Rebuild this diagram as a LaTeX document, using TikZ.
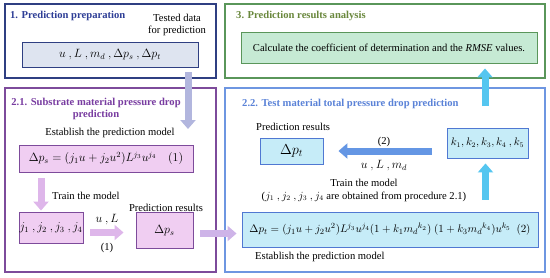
\documentclass[tikz,border=0pt]{standalone}
\usepackage{amsmath}
\usepackage{fontspec}
\setmainfont{Liberation Serif}
\usetikzlibrary{
	positioning,
	arrows.meta,
	calc
}
\definecolor{PrepNavy}{RGB}{47,63,130}
\definecolor{PrepTitle}{RGB}{46,62,150}
\definecolor{PrepFill}{RGB}{222,228,240}
\definecolor{EvalGreen}{RGB}{90,150,90}
\definecolor{EvalTitle}{RGB}{105,135,60}
\definecolor{EvalFill}{RGB}{198,234,212}
\definecolor{SubPurple}{RGB}{125,75,155}
\definecolor{SubTitle}{RGB}{120,60,160}
\definecolor{SubFill}{RGB}{240,206,242}
\definecolor{SubArrow}{RGB}{222,182,234}
\definecolor{TestBlue}{RGB}{110,150,225}
\definecolor{TestTitle}{RGB}{90,130,215}
\definecolor{TestFill}{RGB}{198,236,248}
\definecolor{TestBorder}{RGB}{80,120,210}
\definecolor{TestArrow}{RGB}{85,198,240}
\definecolor{LeftArrow}{RGB}{100,150,228}
\definecolor{DownArrow}{RGB}{178,182,222}
\definecolor{MixArrow}{RGB}{206,180,232}

\newcommand{\basesize}{\fontsize{10.6}{12.6}\selectfont}
\newcommand{\mathsize}{\fontsize{11.6}{13.6}\selectfont}

\tikzset{
	framebox/.style={line width=1.1pt},
	inbox/.style={draw, line width=0.9pt, inner sep=0pt, align=center},
	steptitle/.style={font=\basesize\bfseries, inner sep=0pt},
	plaintext/.style={inner sep=0pt, align=center},
	fatarrow/.style={line width=7pt, -{Triangle[length=9pt,width=15pt]}}
}

\begin{document}
\begin{tikzpicture}[x=1pt,y=-1pt,font=\basesize]
				
				\useasboundingbox (0,0) rectangle (550,277);
				
				\draw[
				PrepNavy,
				framebox
				]
				(5,4) rectangle (216,78);
				
				\draw[
				EvalGreen,
				framebox
				]
				(225,4) rectangle (545,78);
				
				\draw[
				SubPurple,
				framebox
				]
				(5,88) rectangle (216,272);
				
				\draw[
				TestBlue,
				framebox
				]
				(225,88) rectangle (545,272);
				
				\node[
				steptitle,
				PrepTitle,
				anchor=west
				]
				(title1) at (10,16)
				{1. Prediction preparation};
				
				\node[
				plaintext
				]
				(tested) at (177,25)
				{Tested data\\for prediction};
				
				\node[
				inbox,
				draw=PrepNavy,
				fill=PrepFill,
				minimum width=176pt,
				minimum height=25pt,
				font=\mathsize
				]
				(inp) at (110,54.5)
				{$u\ ,L\ ,m_d\ ,\Delta p_s\ ,\Delta p_t$};
				
				\node[
				steptitle,
				EvalTitle,
				anchor=west
				]
				(title3) at (236,16)
				{3. Prediction results analysis};
				
				\node[
				inbox,
				draw=EvalGreen,
				fill=EvalFill,
				minimum width=296pt,
				minimum height=31pt
				]
				(calc) at (389,47.5)
				{Calculate the coefficient of determination and the \textit{RMSE} values.};
				
				\node[
				steptitle,
				SubTitle,
				align=center
				]
				(title21) at (96,109)
				{2.1. Substrate material pressure drop\\prediction};
				
				\node[
				plaintext
				]
				(est1) at (110,133)
				{Establish the prediction model};
				
				\node[
				inbox,
				draw=SubPurple,
				fill=SubFill,
				minimum width=174pt,
				minimum height=27pt,
				font=\mathsize
				]
				(eq1) at (106,158.5)
				{$\Delta p_s=(j_1u+j_2u^2)L^{j_3}u^{j_4}\quad(1)$};
				
				\node[
				plaintext,
				anchor=west
				]
				(train1) at (52,196)
				{Train the model};
				
				\node[
				inbox,
				draw=SubPurple,
				fill=SubFill,
				minimum width=64pt,
				minimum height=31pt,
				font=\mathsize
				]
				(jbox) at (51,227.5)
				{$j_1\ ,j_2\ ,j_3\ ,j_4$};
				
				\node[
				plaintext
				]
				(pr1) at (166,208)
				{Prediction results};
				
				\node[
				inbox,
				draw=SubPurple,
				fill=SubFill,
				minimum width=57pt,
				minimum height=36pt,
				font=\mathsize
				]
				(dps) at (164.5,230.5)
				{$\Delta p_s$};
				
				\node[
				plaintext,
				font=\mathsize
				]
				(ul) at (107,220)
				{$u\ ,L$};
				
				\node[
				plaintext
				]
				(one) at (107,248)
				{(1)};
				
				\node[
				steptitle,
				TestTitle,
				anchor=west
				]
				(title22) at (242,104)
				{2.2. Test material total pressure drop prediction};
				
				\node[
				plaintext,
				anchor=west
				]
				(pr2) at (256,127)
				{Prediction results};
				
				\node[
				inbox,
				draw=TestBorder,
				fill=TestFill,
				minimum width=63pt,
				minimum height=26pt,
				font=\fontsize{14}{16}\selectfont
				]
				(dpt) at (291.5,151)
				{$\Delta p_t$};
				
				\node[
				inbox,
				draw=TestBorder,
				fill=TestFill,
				minimum width=81pt,
				minimum height=30pt
				]
				(kbox) at (487.5,143)
				{$k_1,k_2,k_3,k_4\ ,k_5$};
				
				\node[
				plaintext
				]
				(two) at (384,142)
				{(2)};
				
				\node[
				plaintext,
				font=\mathsize
				]
				(ulm) at (384,166)
				{$u\ ,L\ ,m_d$};
				
				\node[
				plaintext
				]
				(train2) at (364,190.5)
				{Train the model\\($j_1\ ,j_2\ ,j_3\ ,j_4$ are obtained from procedure 2.1)};
				
				\node[
				inbox,
				draw=TestBorder,
				fill=TestFill,
				minimum width=296pt,
				minimum height=35pt,
				font=\fontsize{11.2}{13}\selectfont
				]
				(eq2) at (390,229.5)
				{$\Delta p_t=(j_1u+j_2u^2)L^{j_3}u^{j_4}(1+k_1{m_d}^{k_2})\ (1+k_3{m_d}^{k_4})u^{k_5}\ \ (2)$};
				
				\node[
				plaintext,
				anchor=west
				]
				(est2) at (255,257)
				{Establish the prediction model};
				
				\coordinate (downend) at (188,129);
				\coordinate (upstart) at (485,106);
				
				\draw[
				fatarrow,
				DownArrow,
				shorten <=5pt
				]
				(inp.south -| downend) -- (downend);
				
				\draw[
				fatarrow,
				SubArrow,
				shorten <=6pt,
				shorten >=1pt
				]
				(eq1.south -| jbox.north) ++(-10,0) coordinate (eqfoot) -- (eqfoot |- jbox.north);
				
				\draw[
				fatarrow,
				SubArrow,
				shorten <=7pt,
				shorten >=12pt
				]
				(jbox.east) ++(0,5) coordinate (jout) -- (jout -| dps.west);
				
				\draw[
				fatarrow,
				MixArrow,
				shorten <=7pt,
				shorten >=5pt
				]
				(dps.east) ++(0,3) coordinate (dpsout) -- (dpsout -| eq2.west);
				
				\draw[
				fatarrow,
				LeftArrow,
				shorten <=15pt,
				shorten >=15pt
				]
				(kbox.west |- dpt.east) -- (dpt.east);
				
				\draw[
				fatarrow,
				TestArrow,
				shorten <=12pt,
				shorten >=5pt
				]
				(eq2.north -| kbox.south) ++(-2,0) coordinate (eqtop) -- (eqtop |- kbox.south);
				
				\draw[
				fatarrow,
				TestArrow,
				shorten >=5pt
				]
				(upstart) -- (upstart |- calc.south);
				
			\end{tikzpicture}
\end{document}
